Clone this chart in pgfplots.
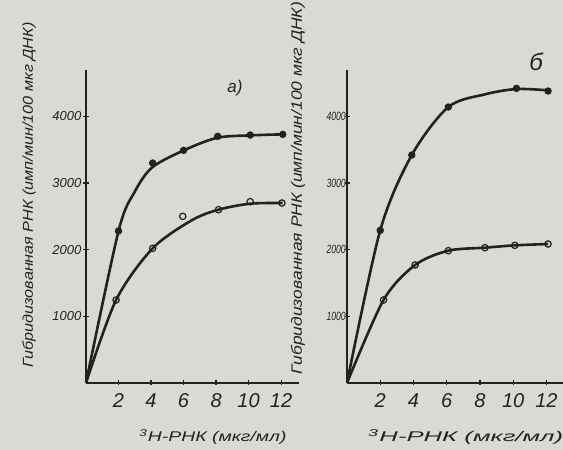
\documentclass[border=0pt]{standalone}
\usepackage{fontspec}
\setmainfont{Liberation Sans}
\usepackage{graphicx}
\usepackage{pgfplots}
\pgfplotsset{compat=1.18}
\definecolor{bg}{RGB}{216,218,213}
\definecolor{ink}{RGB}{34,34,32}
\pgfplotsset{
  panel/.style={
    scale only axis, anchor=south west,
    xmin=0, ymin=0, ymax=4700,
    axis x line=bottom, axis y line=left,
    axis line style={-, line width=1.8pt, color=ink},
    xtick={2,4,6,8,10,12}, ytick={1000,2000,3000,4000},
    tick align=center, major tick length=5pt,
    tick style={line width=1.2pt, color=ink},
    /pgf/number format/assume math mode=true,
    /pgf/number format/set thousands separator={},
    xticklabel style={font=\fontsize{20}{20}\selectfont\itshape, text=ink, yshift=-5pt},
    yticklabel style={font=\fontsize{13}{13}\selectfont\itshape, text=ink, inner sep=1pt},
  },
  crv/.style={ink, line width=2.6pt, smooth, tension=0.5, no markers},
  up/.style={only marks, mark=*, mark size=3.2pt, mark options={fill=ink, draw=ink, line width=1pt}},
  lo/.style={only marks, mark=o, mark size=3.2pt, mark options={fill=bg, draw=ink, line width=1.2pt}},
}
\begin{document}
\begin{tikzpicture}[x=1pt,y=1pt]
\fill[bg] (0,0) rectangle (563,450);
\useasboundingbox (0,0) rectangle (563,450);
% panel a
\begin{axis}[panel, at={(86pt,67pt)}, width=213pt, height=313.3pt, xmax=13.1,
  yticklabel style={xshift=-1pt}]
\addplot[crv] coordinates {(0,0) (2,2280) (3,2870) (4.1,3240) (6.2,3510) (8.1,3680) (10.1,3715) (12.1,3730)};
\addplot[up] coordinates {(2,2280) (4.1,3300) (6,3490) (8.1,3700) (10.1,3720) (12.1,3730)};
\addplot[crv] coordinates {(0,0) (1.85,1245) (4.1,2020) (6.5,2440) (8.15,2600) (10.1,2690) (12.1,2700)};
\addplot[lo] coordinates {(1.85,1245) (4.1,2020) (5.95,2500) (8.15,2600) (10.1,2720) (12.05,2700)};
\end{axis}
% panel b
\begin{axis}[panel, at={(347pt,67pt)}, width=216pt, height=313.3pt, xmax=13,
  yticklabel style={font=\fontsize{12}{12}\selectfont\itshape, xscale=0.72, xshift=3pt}]
\addplot[crv] coordinates {(0,0) (2,2290) (3.9,3420) (6.1,4140) (8.3,4330) (10.2,4410) (12.1,4390)};
\addplot[up] coordinates {(2,2290) (3.9,3420) (6.1,4140) (10.2,4420) (12.1,4380)};
\addplot[crv] coordinates {(0,0) (2.2,1245) (4.1,1770) (6.1,1985) (8.3,2030) (10.1,2065) (12.1,2085)};
\addplot[lo] coordinates {(2.2,1245) (4.1,1770) (6.1,1985) (8.3,2030) (10.1,2065) (12.1,2085)};
\end{axis}
% y labels
\node[rotate=90, text=ink, inner sep=0] at (29,255) {\resizebox{345pt}{10.5pt}{\itshape Гибридизованная РНК (имп/мин/100 мкг ДНК)}};
\node[rotate=90, text=ink, inner sep=0] at (298,262) {\resizebox{372pt}{11pt}{\itshape Гибридизованная РНК (имп/мин/100 мкг ДНК)}};
% x labels
\node[text=ink, inner sep=0] at (213,13) {\resizebox{147pt}{12pt}{\itshape \textsuperscript{3}H-РНК (мкг/мл)}};
\node[text=ink, inner sep=0, anchor=west] at (368,13) {\resizebox{195pt}{12pt}{\itshape \textsuperscript{3}H-РНК (мкг/мл)}};
% panel letters
\node[text=ink, font=\fontsize{17}{17}\selectfont\itshape] at (235,362) {а)};
\node[text=ink, font=\fontsize{24}{24}\selectfont\itshape] at (536,388) {б};
\end{tikzpicture}
\end{document}
